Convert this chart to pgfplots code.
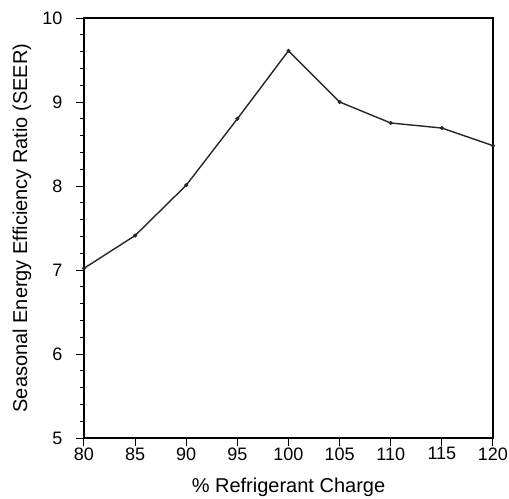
\documentclass[border=0pt]{standalone}
\usepackage{fontspec}
\setmainfont{Liberation Sans}
\usepackage{pgfplots}
\pgfplotsset{compat=1.18}
\begin{document}
\begin{tikzpicture}
\begin{axis}[
    scale only axis,
    width=409bp,
    height=420bp,
    xmin=80, xmax=120,
    ymin=5, ymax=10,
    xtick={80,85,...,120},
    ytick={5,6,...,10},
    minor y tick num=4,
    tick align=outside,
    tick pos=left,
    major tick length=8bp,
    minor tick length=4bp,
    axis line style={line width=1.6bp},
    tick style={line width=1bp, black},
    /pgf/number format/assume math mode=true,
    tick label style={font=\fontsize{18bp}{20bp}\selectfont},
    yticklabel style={xshift=-10bp},
    xticklabel style={yshift=2bp},
    label style={font=\fontsize{20bp}{22bp}\selectfont},
    xlabel={\% Refrigerant Charge},
    ylabel={Seasonal Energy Efficiency Ratio (SEER)},
    xlabel style={at={(axis description cs:0.5,-0.117)}, anchor=center},
    ylabel style={at={(axis description cs:-0.152,0.5)}, anchor=center},
    clip=false,
]
\addplot[line width=1.4bp, black!85, mark=*, mark size=1.2bp] coordinates {
    (80,7.02) (85,7.41) (90,8.01) (95,8.80) (100,9.61)
    (105,9.00) (110,8.75) (115,8.69) (120,8.48)
};
\coordinate (o) at (rel axis cs:0,0);
\end{axis}
\pgfresetboundingbox
\path[use as bounding box] (o) ++(-84bp,-61bp) rectangle ++(509bp,499bp);
\end{tikzpicture}
\end{document}
